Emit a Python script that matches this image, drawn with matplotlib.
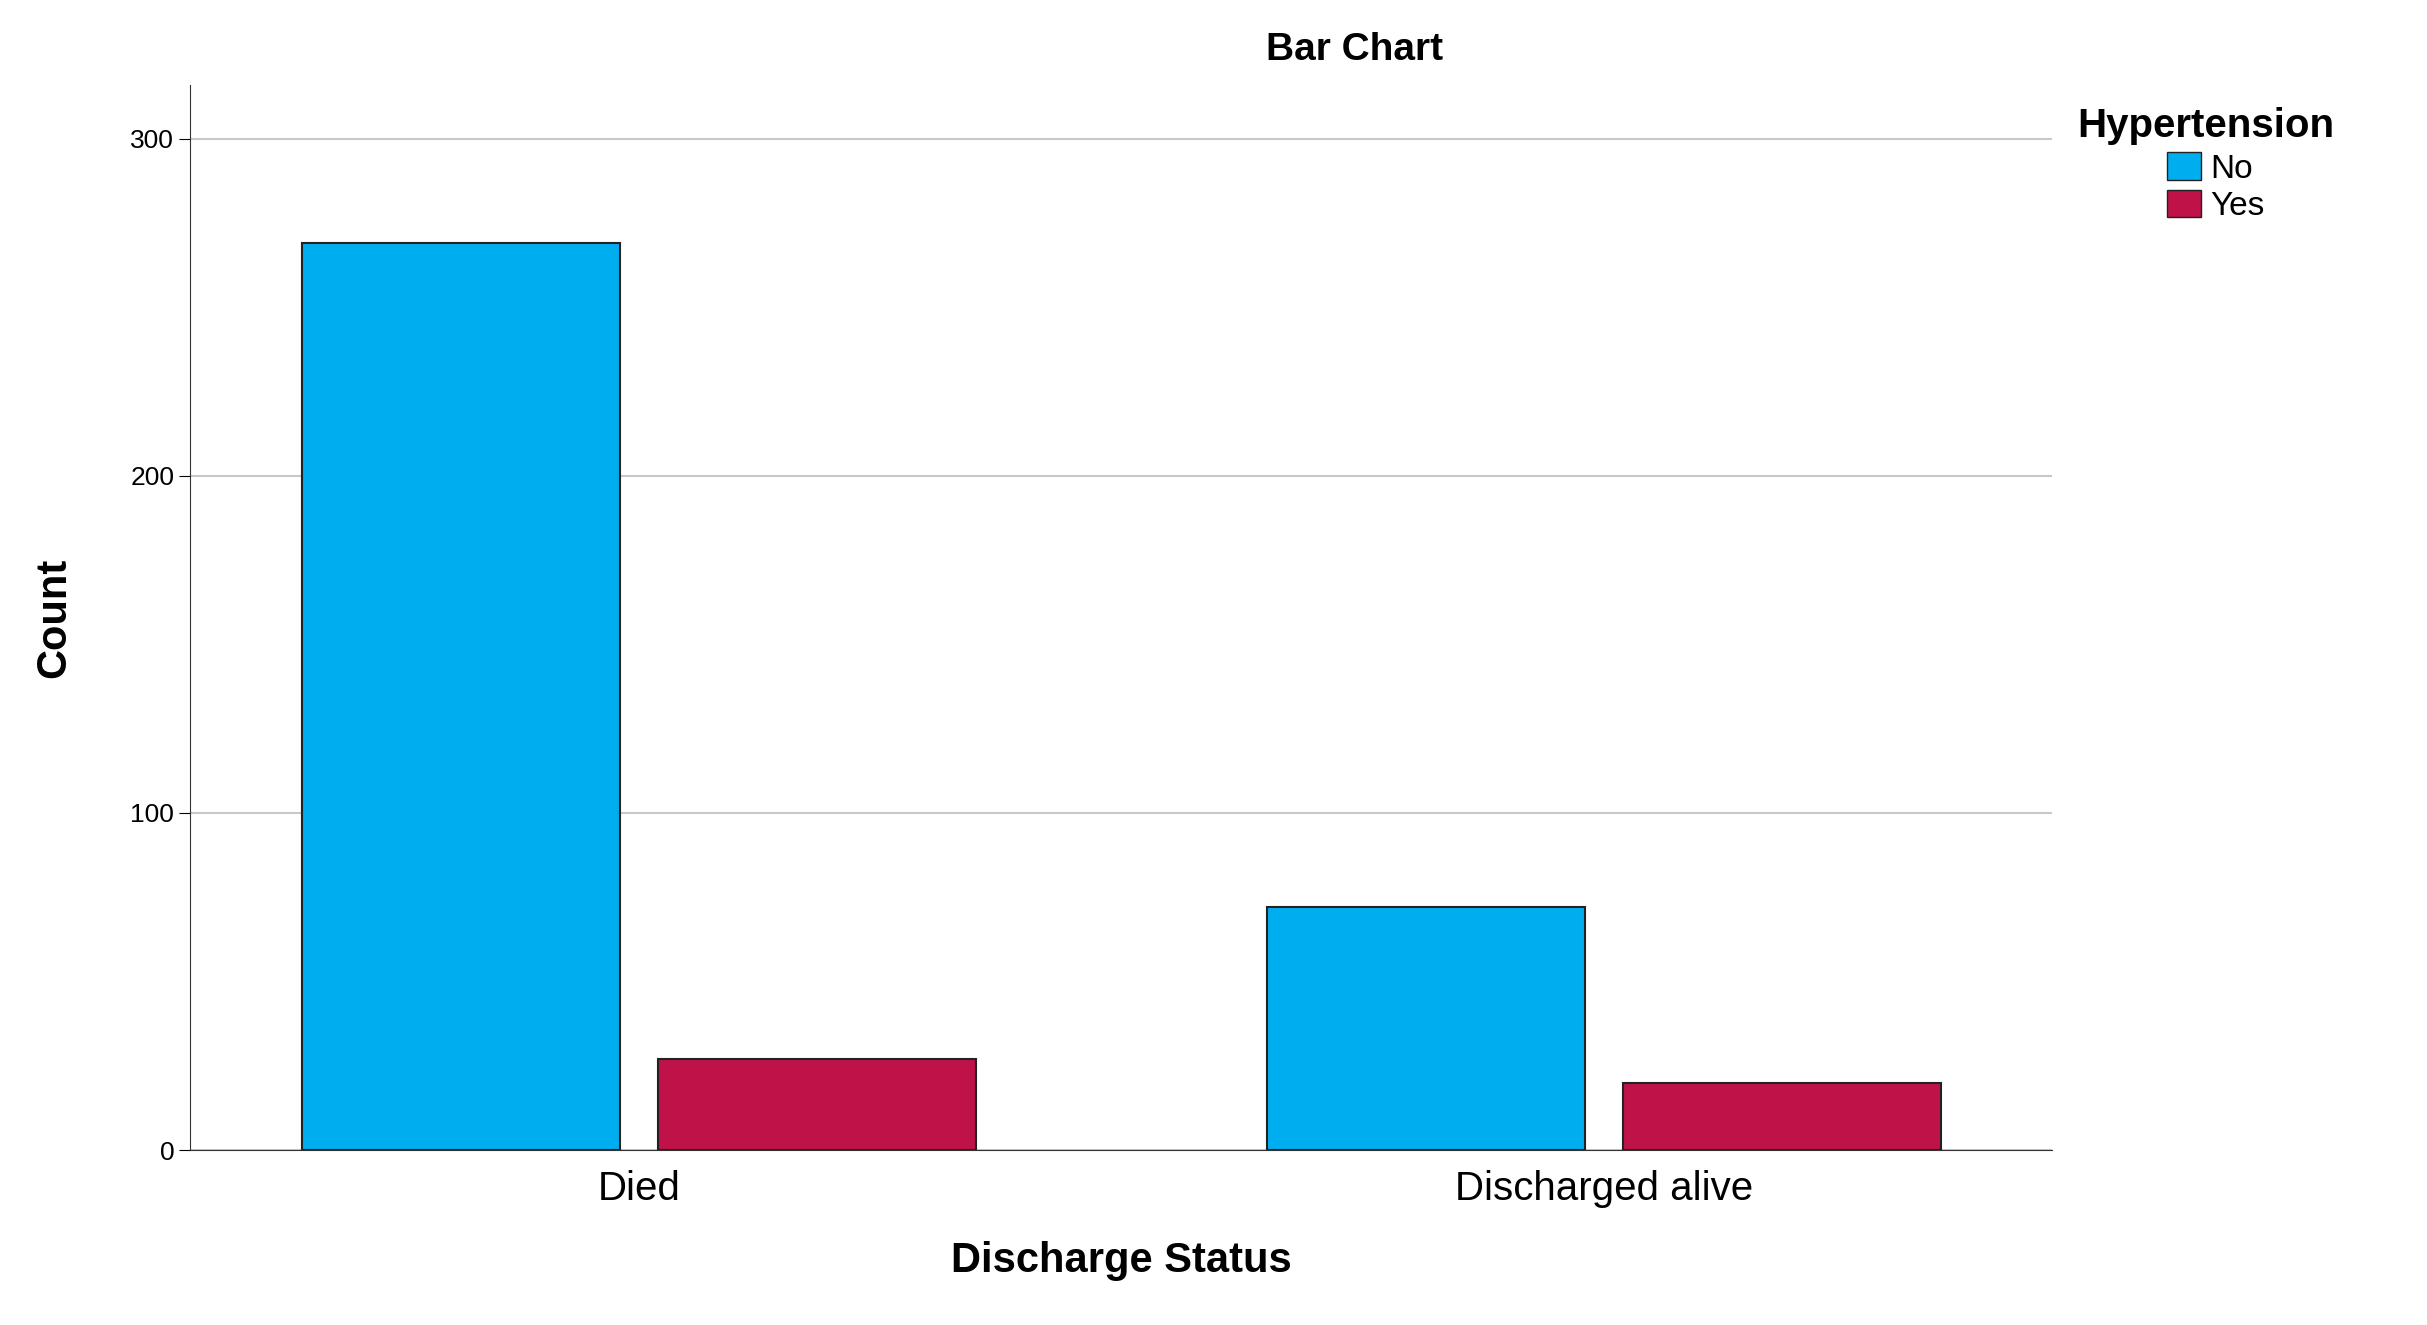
import numpy as np
import matplotlib.pyplot as plt
from matplotlib.patches import Patch

plt.rcParams['font.family'] = ['Liberation Sans', 'DejaVu Sans']

# Data
categories = ["Died", "Discharged alive"]
series_names = ["No", "Yes"]
no_counts = [269, 72]
yes_counts = [27, 20]
colors = ["#00AEEF", "#BE1248"]

fig = plt.figure(figsize=(24.27, 13.25), dpi=100)
ax = fig.add_axes([0.0784, 0.132, 0.767, 0.804])

x = np.arange(len(categories))
w = 0.33
gap = 0.0385
ax.bar(x - w / 2 - gap / 2, no_counts, w, color=colors[0], edgecolor="#222222", linewidth=1.5, zorder=3)
ax.bar(x + w / 2 + gap / 2, yes_counts, w, color=colors[1], edgecolor="#222222", linewidth=1.5, zorder=3)

ax.set_xlim(-0.465, 1.464)
ax.set_ylim(0, 316)
ax.set_yticks([0, 100, 200, 300])
ax.tick_params(axis='y', labelsize=19, length=8, direction='out')
ax.set_xticks(x)
ax.set_xticklabels(categories, fontsize=29)
ax.tick_params(axis='x', length=0, pad=14)
ax.yaxis.grid(True, color="#c8c8c8", linewidth=1.5, zorder=0)
for s in ["top", "right"]:
    ax.spines[s].set_visible(False)
ax.spines["left"].set_color("#333333")
ax.spines["bottom"].set_color("#333333")

ax.set_xlabel("Discharge Status", fontsize=30, fontweight='bold', labelpad=24)
ax.set_ylabel("Count", fontsize=30, fontweight='bold', labelpad=40)
fig.text(0.558, 0.962, "Bar Chart", fontsize=28, fontweight='bold', ha='center', va='center')

# legend: title placed separately, entries indented below it
fig.text(0.856, 0.905, "Hypertension", fontsize=29, fontweight='bold', ha='left', va='center')
handles = [Patch(facecolor=c, edgecolor="#222222", label=n) for c, n in zip(colors, series_names)]
fig.legend(handles=handles, loc='upper left', bbox_to_anchor=(0.893, 0.885), frameon=False,
           fontsize=24, handlelength=1.0, handleheight=0.9, handletextpad=0.3,
           labelspacing=0.15, borderaxespad=0, borderpad=0)

fig.savefig("out.png", dpi=100)
